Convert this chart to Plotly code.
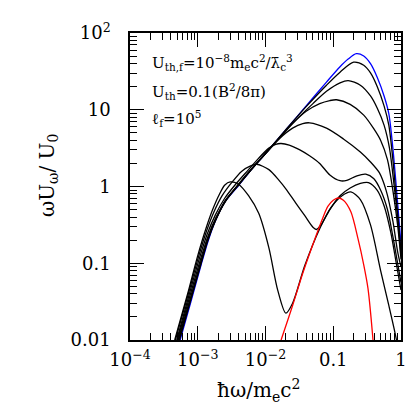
import numpy as np
import plotly.graph_objects as go

# ---- data (log10 of x = hbar*omega/m_e c^2, log10 of y = omega U_omega / U_0) ----
blue_logx = [-3.26, -3.1, -2.95, -2.85, -2.75, -2.6, -2.4, -2.2, -2.0, -1.7, -1.4, -1.1, -0.9, -0.78, -0.66, -0.55, -0.45, -0.35, -0.25, -0.18, -0.12, -0.07, 0.0]
blue_logy = [-2.0, -1.5, -1.02, -0.72, -0.47, -0.2, 0.01, 0.23, 0.43, 0.74, 1.05, 1.36, 1.56, 1.66, 1.73, 1.70, 1.60, 1.42, 1.18, 0.95, 0.5, 0.0, -0.75]

k1_logx = [-3.27, -3.1, -2.95, -2.85, -2.74, -2.6, -2.4, -2.2, -2.0, -1.7, -1.4, -1.1, -0.9, -0.7, -0.55, -0.45, -0.35, -0.25, -0.18, -0.12, -0.07, 0.0]
k1_logy = [-2.0, -1.47, -1.0, -0.7, -0.45, -0.2, 0.02, 0.23, 0.43, 0.74, 1.04, 1.32, 1.49, 1.62, 1.58, 1.48, 1.30, 1.05, 0.8, 0.35, -0.15, -0.85]

k2_logx = [-3.28, -3.1, -2.95, -2.85, -2.74, -2.6, -2.4, -2.2, -2.0, -1.7, -1.5, -1.3, -1.1, -0.9, -0.78, -0.6, -0.45, -0.35, -0.25, -0.17, -0.1, -0.05, 0.0]
k2_logy = [-2.0, -1.45, -0.98, -0.68, -0.44, -0.19, 0.02, 0.23, 0.43, 0.73, 0.91, 1.08, 1.24, 1.35, 1.38, 1.32, 1.18, 1.02, 0.8, 0.5, 0.0, -0.4, -0.9]

k3_logx = [-3.29, -3.11, -2.96, -2.84, -2.73, -2.58, -2.4, -2.2, -2.0, -1.8, -1.6, -1.4, -1.2, -1.05, -0.95, -0.75, -0.55, -0.4, -0.3, -0.2, -0.12, -0.05, 0.0]
k3_logy = [-2.0, -1.46, -1.0, -0.66, -0.42, -0.18, 0.02, 0.23, 0.43, 0.62, 0.82, 0.98, 1.08, 1.12, 1.13, 1.07, 0.93, 0.75, 0.6, 0.35, -0.05, -0.5, -0.95]

k4_logx = [-3.3, -3.12, -2.97, -2.85, -2.73, -2.58, -2.4, -2.2, -2.0, -1.8, -1.6, -1.45, -1.35, -1.1, -0.85, -0.6, -0.45, -0.32, -0.22, -0.12, -0.05, 0.0]
k4_logy = [-2.0, -1.44, -0.98, -0.65, -0.4, -0.17, 0.03, 0.24, 0.43, 0.62, 0.76, 0.82, 0.83, 0.76, 0.62, 0.45, 0.32, 0.18, -0.05, -0.45, -0.85, -1.05]

ka_logx = [-3.31, -3.13, -2.98, -2.86, -2.74, -2.6, -2.45, -2.25, -2.1, -1.95, -1.85, -1.77, -1.65, -1.5, -1.35, -1.2, -1.05, -0.9, -0.8, -0.65, -0.52, -0.4, -0.3, -0.2, -0.12, -0.05, 0.0]
ka_logy = [-2.0, -1.42, -0.95, -0.62, -0.37, -0.15, 0.02, 0.22, 0.37, 0.5, 0.55, 0.56, 0.54, 0.48, 0.4, 0.3, 0.15, 0.075, 0.08, 0.14, 0.16, 0.1, -0.05, -0.3, -0.65, -1.0, -1.25]

kb_logx = [-3.33, -3.14, -2.99, -2.87, -2.76, -2.64, -2.5, -2.35, -2.22, -2.13, -1.95, -1.8, -1.7, -1.55, -1.42, -1.3, -1.25, -1.18, -1.05, -0.9, -0.75, -0.6, -0.48, -0.35, -0.25, -0.15, -0.07, 0.0]
kb_logy = [-2.0, -1.4, -0.92, -0.58, -0.33, -0.12, 0.05, 0.2, 0.27, 0.29, 0.22, 0.08, -0.03, -0.22, -0.38, -0.53, -0.56, -0.5, -0.3, -0.12, -0.02, 0.04, 0.05, -0.05, -0.25, -0.6, -1.0, -1.35]

kc_logx = [-3.34, -3.15, -3.0, -2.88, -2.78, -2.68, -2.6, -2.52, -2.4, -2.25, -2.1, -1.95, -1.82, -1.7, -1.6, -1.42, -1.2, -1.03, -0.87, -0.74, -0.6, -0.45, -0.3, -0.18, -0.09, 0.0]
kc_logy = [-2.0, -1.4, -0.9, -0.55, -0.3, -0.1, 0.02, 0.06, 0.03, -0.12, -0.35, -0.8, -1.35, -1.65, -1.52, -1.03, -0.55, -0.27, -0.12, -0.07, -0.17, -0.5, -1.1, -1.55, -1.9, -2.3]

red_logx = [-1.77, -1.6, -1.45, -1.27, -1.15, -1.08, -1.0, -0.93, -0.85, -0.74, -0.635, -0.55, -0.487, -0.413, -0.38]
red_logy = [-2.0, -1.55, -1.13, -0.68, -0.4, -0.26, -0.18, -0.15, -0.18, -0.33, -0.68, -1.02, -1.33, -2.0, -2.4]

x_tickvals = [1e-4, 1e-3, 1e-2, 0.1, 1]
x_ticktext = ["10<sup>−4</sup>", "10<sup>−3</sup>", "10<sup>−2</sup>", "0.1", "1"]
y_tickvals = [0.01, 0.1, 1, 10, 100]
y_ticktext = ["0.01", "0.1", "1", "10", "10<sup>2</sup>"]

FONT = "DejaVu Serif"

fig = go.Figure()

def add(lx, ly, color):
    fig.add_trace(go.Scatter(
        x=10 ** np.array(lx), y=10 ** np.array(ly), mode="lines",
        line=dict(color=color, width=1.3, shape="spline", smoothing=0.8),
        showlegend=False, hoverinfo="skip"))

add(blue_logx, blue_logy, "#0000ff")
for lx, ly in [(k1_logx, k1_logy), (k2_logx, k2_logy), (k3_logx, k3_logy), (k4_logx, k4_logy),
               (ka_logx, ka_logy), (kb_logx, kb_logy), (kc_logx, kc_logy)]:
    add(lx, ly, "#000000")
add(red_logx, red_logy, "#ff0000")

x_minor = [m * 10.0 ** e for e in range(-4, 0) for m in range(2, 10)]
y_minor = [m * 10.0 ** e for e in range(-2, 2) for m in range(2, 10)]

axis_common = dict(
    type="log", showgrid=False, zeroline=False,
    showline=True, linecolor="black", linewidth=1.5, mirror="allticks",
    ticks="inside", ticklen=14, tickwidth=1.2, tickcolor="black",
    tickfont=dict(family=FONT, size=18, color="black"),
    tickmode="array",
)

fig.update_xaxes(**axis_common, range=[-4, 0], tickvals=x_tickvals, ticktext=x_ticktext,
                 ticklabelstandoff=3,
                 minor=dict(tickvals=x_minor, ticks="inside", ticklen=7, tickwidth=1, tickcolor="black", showgrid=False))
fig.update_yaxes(**axis_common, range=[-2, 2], tickvals=y_tickvals, ticktext=y_ticktext,
                 ticklabelstandoff=14,
                 minor=dict(tickvals=y_minor, ticks="inside", ticklen=7, tickwidth=1, tickcolor="black", showgrid=False))

ann_font = dict(family=FONT, size=15, color="black")
fig.add_annotation(xref="paper", yref="paper", x=0.074, y=0.904, xanchor="left", yanchor="middle",
                   text="U<sub>th,f</sub>=10<sup>−8</sup>m<sub>e</sub>c<sup>2</sup>/λ̄<sub>c</sub><sup>3</sup>",
                   showarrow=False, font=ann_font)
fig.add_annotation(xref="paper", yref="paper", x=0.074, y=0.811, xanchor="left", yanchor="middle",
                   text="U<sub>th</sub>=0.1(B<sup>2</sup>/8π)", showarrow=False, font=ann_font)
fig.add_annotation(xref="paper", yref="paper", x=0.074, y=0.721, xanchor="left", yanchor="middle",
                   text="ℓ<sub>f</sub>=10<sup>5</sup>", showarrow=False, font=ann_font)

# axis titles
fig.add_annotation(xref="paper", yref="paper", x=0.475, y=-0.163, xanchor="center", yanchor="middle",
                   text="ħω/m<sub>e</sub>c<sup>2</sup>", showarrow=False,
                   font=dict(family=FONT, size=20, color="black"))
fig.add_annotation(xref="paper", yref="paper", x=-0.305, y=0.535, xanchor="center", yanchor="middle",
                   text="ωU<sub>ω</sub>/ U<sub>0</sub>", textangle=-90, showarrow=False,
                   font=dict(family=FONT, size=20, color="black"))

fig.update_layout(
    width=415, height=415,
    margin=dict(l=122, r=22, t=23, b=83),
    plot_bgcolor="white", paper_bgcolor="white",
    showlegend=False,
)

fig.write_html("out.html")
